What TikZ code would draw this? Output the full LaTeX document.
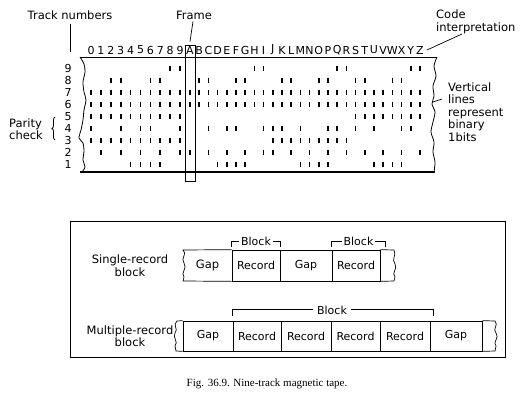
\documentclass[tikz,border=0pt]{standalone}
\usepackage{fontspec}
\setmainfont{DejaVu Sans}
\newfontfamily\capfont{Liberation Serif}
\usetikzlibrary{decorations.pathreplacing}
\begin{document}
\begin{tikzpicture}[x=1pt,y=-1pt,
  lbl/.style={font=\fontsize{11.5}{12.5}\selectfont, inner sep=0pt},
  col/.style={font=\fontsize{11}{12}\selectfont, inner sep=0pt},
  bitmark/.style={line width=1.7pt},
  thinline/.style={line width=0.7pt},
  cell/.style={draw, line width=0.7pt, minimum height=30pt, inner sep=0pt, font=\fontsize{11}{12}\selectfont},
  blk/.style={fill=white, inner xsep=2pt, inner ysep=0pt, font=\fontsize{11}{12}\selectfont}]
\useasboundingbox (0,0) rectangle (527,407);

% ---------- upper part: tape ----------
\node[lbl] (tracklbl) at (70,15) {Track numbers};
\coordinate (trk) at (70,52);
\draw[thinline] ([yshift=-4pt]tracklbl.south) -- (trk);

\node[lbl] (framelbl) at (194,15) {Frame};
\node[draw, line width=0.9pt, minimum width=10pt, minimum height=136pt, inner sep=0pt] (frame) at (190,113) {};
\draw[thinline] ([xshift=-1pt,yshift=-2pt]framelbl.south) -- ([yshift=3pt]frame.north);

\node[lbl, align=left, anchor=west] (codelbl) at (436,22) {Code\\interpretation};

% column labels
\foreach \i/\t in {0/0,1/1,2/2,3/3,4/4,5/5,6/6,7/7,8/8,9/9,10/A,11/B,12/C,13/D,14/E,15/F,16/G,17/H,18/I,19/J,20/K,21/L,22/M,23/N,24/O,25/P,26/Q,27/R,28/S,29/T,30/U,31/V,32/W,33/X,34/Y,35/Z}{
  \pgfmathsetmacro\cx{\i<10.5 ? 91+9.9*\i : 190+9.2*(\i-10)}
  \node[col] (c\i) at (\cx,50) {\t};
}
\coordinate (cipt) at (462,34);
\draw[thinline] ([xshift=3pt]c35.east) -- (cipt);

% row labels
\foreach \r in {1,...,9}{
  \pgfmathsetmacro\ry{68+(9-\r)*12.1}
  \node[col] (t\r) at (68,\ry) {\r};
}

% tape outline
\draw[line width=0.9pt] (80,57) -- (437,57);
\draw[line width=2pt] (80,172) -- (435,172);
\draw[line width=0.8pt] plot[smooth] coordinates {(80,57) (84,64) (85,72) (83,82) (84,92) (86,100) (84,110) (83,120) (81,130) (79,138) (83,143) (84,151) (83,160) (85,167) (82,172)};
\draw[line width=0.8pt] plot[smooth] coordinates {(437,57) (434,66) (436,76) (433,86) (434,96) (432,104) (435,112) (433,122) (431,132) (434,142) (433,152) (435,162) (434,172)};

% bits
\foreach \r/\cols in {
  9/{8,9,17,18,26,27,34,35},
  8/{2,3,6,7,11,12,15,16,20,21,24,25,28,29,32,33},
  7/{0,1,2,3,4,5,6,7,8,9,10,11,12,13,14,15,16,17,18,19,20,21,22,23,24,25,26,27,28,29,30,31,32,33,34,35},
  6/{0,1,2,3,4,5,6,7,8,9,10,11,12,13,14,15,16,17,18,19,20,21,22,23,24,25,26,27,28,29,30,31,32,33,34,35},
  5/{0,1,2,3,4,5,6,7,8,9,28,29,30,31,32,33,34,35},
  4/{0,3,5,6,9,12,14,15,18,19,20,22,25,26,28,30,33,34},
  3/{0,1,2,3,4,5,6,7,8,9,19,20,21,22,23,24,25,26,27},
  2/{1,3,5,7,9,10,12,14,16,18,19,21,23,25,27,29,31,33,35},
  1/{4,5,6,7,13,14,15,16,22,23,24,25,30,31,32,33}}{
  \pgfmathsetmacro\ry{68+(9-\r)*12.1}
  \foreach \i in \cols {
    \pgfmathsetmacro\cx{\i<10.5 ? 91+9.9*\i : 190+9.2*(\i-10)}
    \draw[bitmark] (\cx,\ry-2.5) -- (\cx,\ry+2.5);
  }
}

% parity check
\node[lbl, align=left, anchor=west] (paritylbl) at (9,129) {Parity\\check};
\draw[line width=0.8pt, decorate, decoration={brace, amplitude=3pt}] (55,140) -- (55,117);

% vertical lines label
\node[lbl, align=left, anchor=west] (vlbl) at (448,112) {Vertical\\lines\\represent\\binary\\1bits};
\coordinate (vpa) at (442,99);
\coordinate (vpb) at (433,102);
\draw[thinline] (vpa) -- (vpb);

% ---------- lower part ----------
\node[draw, line width=0.9pt, minimum width=435pt, minimum height=136pt, inner sep=0pt] (outer) at (287.5,289) {};

% single-record row
\node[lbl, align=center] (singlelbl) at (130,265.5) {Single-record\\block};
\node[lbl] (g1) at (207.5,265.5) {Gap};
\node[cell, minimum height=31pt, minimum width=48pt] (r1) at (256,265.5) {Record};
\node[cell, minimum height=31pt, minimum width=52pt] (g2) at (306,265.5) {Gap};
\node[cell, minimum height=31pt, minimum width=48pt] (r2) at (356,265.5) {Record};
\draw[thinline] (r1.north west) -- (183,250)
  .. controls (188,254) and (180,258) .. (184,263)
  .. controls (188,268) and (180,273) .. (184,277) -- (183,281) -- (r1.south west);
\draw[thinline] (r2.north east) -- (394,250)
  .. controls (397,255) and (391,259) .. (395,264)
  .. controls (398,269) and (391,273) .. (395,277) -- (394,281) -- (r2.south east);

% block brackets (single)
\draw[thinline] ([yshift=3pt]r1.north west) -- ([yshift=8pt]r1.north west) -- ([yshift=8pt]r1.north east) -- ([yshift=3pt]r1.north east);
\node[blk] (b1) at ([yshift=8pt]r1.north) {Block};
\draw[thinline] ([yshift=3pt]r2.north west) -- ([yshift=8pt]r2.north west) -- ([xshift=5pt,yshift=8pt]r2.north east) -- ([xshift=5pt,yshift=3pt]r2.north east);
\node[blk] (b2) at ([xshift=2.5pt,yshift=8pt]r2.north) {Block};

% multiple-record row
\node[lbl, align=center] (multilbl) at (130,336) {Multiple-record\\block};
\node[cell, minimum width=50pt] (g3) at (208,336) {Gap};
\node[cell, minimum width=48pt] (r3) at (257,336) {Record};
\node[cell, minimum width=50pt] (r4) at (306,336) {Record};
\node[cell, minimum width=49pt] (r5) at (355.5,336) {Record};
\node[cell, minimum width=50pt] (r6) at (405,336) {Record};
\node[cell, minimum width=52pt] (g4) at (456,336) {Gap};
\draw[thinline] (g3.north west) -- (177,321)
  .. controls (172,325) and (179,329) .. (175,333)
  .. controls (172,337) and (179,342) .. (175,346) -- (176,351) -- (g3.south west);
\draw[thinline] (g4.north east) -- (495,321)
  .. controls (499,325) and (492,329) .. (496,333)
  .. controls (500,338) and (492,342) .. (496,346) -- (495,351) -- (g4.south east);

% block bracket (multiple)
\draw[thinline] ([yshift=5pt]r3.north west) -- ([yshift=11pt]r3.north west) -- ([xshift=2.5pt,yshift=11pt]r6.north east) -- ([xshift=2.5pt,yshift=5pt]r6.north east);
\node[blk, inner xsep=4pt] (b3) at (332,310) {Block};

% caption
\node[inner sep=0pt, font=\capfont\fontsize{11}{12}\selectfont] (caption) at (267,384) {Fig. 36.9. Nine-track magnetic tape.};
\end{tikzpicture}
\end{document}
